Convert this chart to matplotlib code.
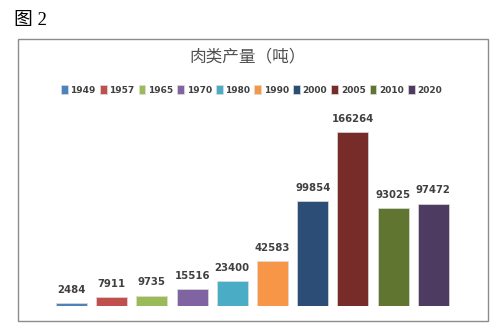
import matplotlib

matplotlib.use("Agg")
import matplotlib.pyplot as plt  # noqa: E402
from matplotlib.patches import Rectangle  # noqa: E402

years = ["1949", "1957", "1965", "1970", "1980", "1990", "2000", "2005", "2010", "2020"]
meat_output = [2484, 7911, 9735, 15516, 23400, 42583, 99854, 166264, 93025, 97472]
colors = ["#4F81BD", "#C0504D", "#9BBB59", "#8064A2", "#4BACC6",
          "#F79646", "#2C4D75", "#772C2A", "#5F7530", "#4D3B62"]

W, H = 500, 329
fig = plt.figure(figsize=(W / 100, H / 100), dpi=100)

# outer chart frame
fig.patches.append(Rectangle((17.5 / W, 8.5 / H), 470.5 / W, 282 / H,
                             transform=fig.transFigure, fill=False,
                             edgecolor="#8c8c8c", linewidth=1.0))

fig.text(14 / W, 1 - 20 / H, "图 2", fontsize=13.5,
         family=["Liberation Serif", "Noto Sans CJK SC"], va="center", ha="left")

ax = fig.add_axes([47.4 / W, 23.3 / H, 410 / W, 188.1 / H])
bars = []
for i, (yr, val, col) in enumerate(zip(years, meat_output, colors)):
    b = ax.bar(i, val, width=0.77, color=col, edgecolor="#dcdcdc",
               linewidth=0.5, label=yr)
    bars.append(b)
    ax.annotate(str(val), (i, val), xytext=(0, 7.5), textcoords="offset points",
                ha="center", va="baseline", fontsize=7.3, fontweight="bold",
                color="#404040", family="DejaVu Sans")

ax.set_xlim(-0.6, 9.6)
ax.set_ylim(0, 180000)
ax.axis("off")

fig.text(247.5 / W, 1 - 56.5 / H, "肉类产量（吨）", fontsize=12,
         family=["Noto Sans CJK SC"], color="#505050", ha="center", va="center")

leg = fig.legend(handles=bars, labels=years, ncol=10, loc="center",
                 bbox_to_anchor=(251.5 / W, 1 - 90 / H), frameon=False,
                 handlelength=0.75, handleheight=1.0, handletextpad=0.3,
                 columnspacing=0.45, borderaxespad=0,
                 prop={"family": "DejaVu Sans", "size": 6.5, "weight": "bold"})
for t in leg.get_texts():
    t.set_color("#404040")

fig.savefig("out.png", dpi=100)
